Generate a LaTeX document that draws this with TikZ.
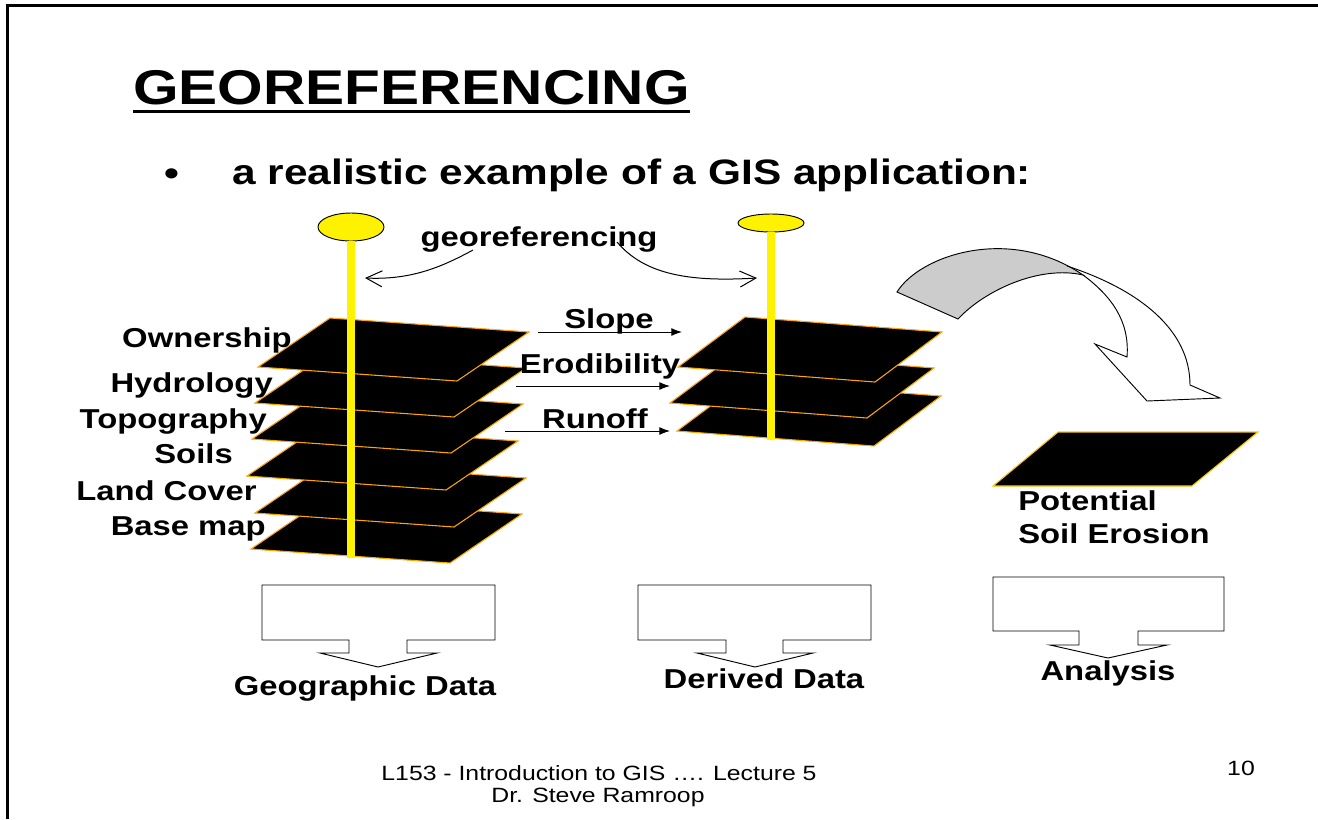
\documentclass[tikz,border=0pt]{standalone}
\usepackage{fontspec}
\setmainfont{Liberation Sans}[FakeStretch=1.2]
\usetikzlibrary{arrows.meta,shapes.geometric}
\tikzset{lyr/.style={fill=black,draw={rgb,255:red,255;green,165;blue,0},line width=0.8pt}}
\tikzset{disk/.style={ellipse,draw,fill=yellow,line width=0.7pt,inner sep=0pt,minimum width=49.5pt}}
\tikzset{pole/.style={draw=yellow,line width=6pt}}
\tikzset{lbl/.style={inner sep=0pt,font=\fontsize{20.5}{24}\selectfont\bfseries}}
\tikzset{box/.style={draw,fill=white,line width=0.7pt}}
\tikzset{geo/.style={-{Straight Barb[length=12pt,width=12pt]},line width=0.75pt}}
\tikzset{drv/.style={-{Latex[length=8pt,width=6pt]},line width=0.75pt}}

\begin{document}
\begin{tikzpicture}[x=0.75pt,y=-0.75pt]
\useasboundingbox (0,0) rectangle (1318,819);
\draw[line width=2.2pt] (7.5,819) -- (7.5,5.5) -- (1318,5.5);

% title and bullet
\node[anchor=base west,inner sep=0pt,font=\fontsize{36.6}{40}\selectfont\bfseries] (ttl) at (133,104) {GEOREFERENCING};
\draw[line width=2.3pt] ([yshift=-5pt]ttl.south west) -- ([yshift=-5pt]ttl.south east);
\node[inner sep=0pt,font=\fontsize{26.5}{30}\selectfont\bfseries] (blt) at (172,177) {•};
\node[anchor=base west,inner sep=0pt,font=\fontsize{26.5}{30}\selectfont\bfseries] (sub) at (232,184) {a realistic example of a GIS application:};

% geographic data layers
\foreach \x/\y in {251/549,255/513,247/476,252/439,255/403,258/367}
  \draw[lyr] (\x,\y) -- ++(72,-49) -- ++(199,14) -- ++(-72,49) -- cycle;
\node[disk,minimum height=21pt] (capl) at (351,227) {};
\coordinate (footl) at (351,558);
\draw[pole] (capl.south) -- (footl);

\node[lbl,anchor=base east] (own) at (292,347) {Ownership};
\node[lbl,anchor=base east] (hyd) at (273,392) {Hydrology};
\node[lbl,anchor=base east] (top) at (267,428) {Topography};
\node[lbl,anchor=base east] (soi) at (233,463) {Soils};
\node[lbl,anchor=base east] (lnd) at (257,500) {Land Cover};
\node[lbl,anchor=base east] (bas) at (266,535) {Base map};

% derived layers
\foreach \x/\y in {677/431,670/403,678/367}
  \draw[lyr] (\x,\y) -- ++(67,-50) -- ++(197,15) -- ++(-67,50) -- cycle;
\node[disk,minimum height=13.5pt] (capr) at (771,223) {};
\coordinate (footr) at (771,440);
\draw[pole] (capr.south) -- (footr);

\node[lbl,anchor=base] (slo) at (609,328) {Slope};
\node[lbl,anchor=base] (ero) at (600,373) {Erodibility};
\node[lbl,anchor=base] (run) at (595,428) {Runoff};
\coordinate (slo1) at (538,332); \coordinate (slo2) at (682,332);
\coordinate (ero1) at (516,386); \coordinate (ero2) at (670,386);
\coordinate (run1) at (505,431); \coordinate (run2) at (670,431);
\draw[drv] (slo1) -- (slo2);
\draw[drv] (ero1) -- (ero2);
\draw[drv] (run1) -- (run2);

% georeferencing arrows
\node[lbl,anchor=base] (geo) at (539,246) {georeferencing};
\coordinate (gl) at (473,250); \coordinate (gl2) at (365,278);
\coordinate (gr) at (617,242); \coordinate (gr2) at (757,278);
\draw[geo] (gl) .. controls (440,268) and (410,280) .. (gl2);
\draw[geo] (gr) .. controls (645,275) and (690,282) .. (gr2);

% curved block arrow
\draw[fill=black!20,line width=0.7pt] (897,292) .. controls (920,255) and (1010,225) .. (1083,275)
  .. controls (1040,265) and (985,290) .. (958,319) -- cycle;
\draw[line width=0.7pt,line join=miter] (1067,266) .. controls (1140,290) and (1190,330) .. (1190,385)
  -- (1220,398) -- (1147,401) -- (1095,344) -- (1127,357)
  .. controls (1130,320) and (1110,295) .. (1083,275);

% result layer
\draw[lyr,draw={rgb,255:red,255;green,200;blue,0}] (993,486) -- (1058,432) -- (1258,432) -- (1192,486) -- cycle;
\node[lbl,anchor=base west] (pot) at (1018,510) {Potential};
\node[lbl,anchor=base west] (ers) at (1018,543) {Soil Erosion};

% callouts
\draw[box] (262,585) -- (495,585) -- (495,640) -- (407,640) -- (407,653) -- (437,653) -- (378,667)
  -- (320,653) -- (349,653) -- (349,640) -- (262,640) -- cycle;
\draw[box] (638,585) -- (871,585) -- (871,640) -- (783,640) -- (783,653) -- (813,653) -- (755,667)
  -- (697,653) -- (726,653) -- (726,640) -- (638,640) -- cycle;
\draw[box] (993,577) -- (1224,577) -- (1224,631) -- (1138,631) -- (1138,645) -- (1167,645) -- (1108,658)
  -- (1050,645) -- (1079,645) -- (1079,631) -- (993,631) -- cycle;
\node[lbl,anchor=base] (gdat) at (365,695) {Geographic Data};
\node[lbl,anchor=base] (ddat) at (764,688) {Derived Data};
\node[lbl,anchor=base] (ana) at (1108,680) {Analysis};

% footer
\node[anchor=base,inner sep=0pt,font=\fontsize{15.5}{18}\selectfont] (ft1) at (599,780) {L153 - Introduction to GIS …. Lecture 5};
\node[anchor=base,inner sep=0pt,font=\fontsize{15.5}{18}\selectfont] (ft2) at (598,802) {Dr. Steve Ramroop};
\node[anchor=base,inner sep=0pt,font=\fontsize{15.5}{18}\selectfont] (pg) at (1241,775) {10};
\end{tikzpicture}
\end{document}
